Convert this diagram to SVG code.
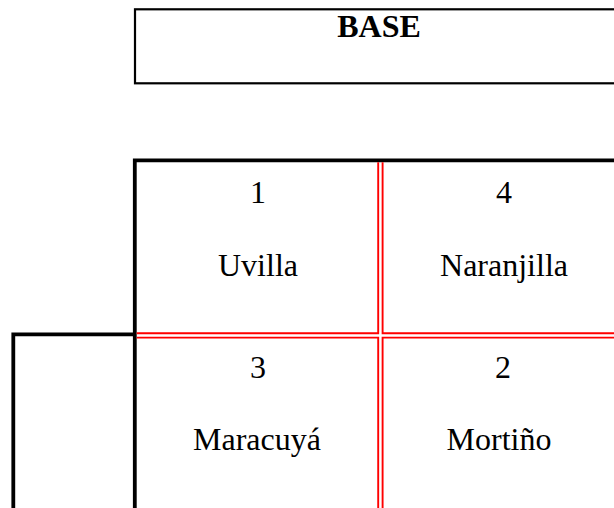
<svg xmlns="http://www.w3.org/2000/svg" width="614" height="508" viewBox="0 0 614 508">
  <style>
    .label { font-family: "Liberation Serif", "Times New Roman", serif; font-size: 32px; fill: #000; text-anchor: middle; }
    .bold { font-weight: bold; }
    .frame { fill: none; stroke: #000; }
    .dbl { fill: none; stroke: #ff0000; stroke-width: 1.9; }
  </style>
  <rect width="614" height="508" fill="#fff"/>

  <!-- header box -->
  <g id="base">
    <rect class="frame" x="135" y="9.3" width="500" height="74" stroke-width="2.2"/>
    <text class="label bold" x="379" y="37.3">BASE</text>
  </g>

  <!-- outer black frame of the grid and the side block -->
  <g id="frames">
    <path class="frame" stroke-width="3.8" d="M134.8 508 V160.3 H620"/>
    <path class="frame" stroke-width="3.8" d="M13.3 508 V334.3 H134.8"/>
  </g>

  <!-- red double rules between the cells -->
  <g id="rules">
    <path class="dbl" d="M136.7 333.3 H378.2 V162.2"/>
    <path class="dbl" d="M614 333.3 H382.6 V162.2"/>
    <path class="dbl" d="M136.7 337.6 H378.2 V508"/>
    <path class="dbl" d="M614 337.6 H382.6 V508"/>
  </g>

  <!-- cells -->
  <g id="cell-uvilla">
    <text class="label" x="258" y="203">1</text>
    <text class="label" x="258" y="276">Uvilla</text>
  </g>
  <g id="cell-naranjilla">
    <text class="label" x="504" y="203">4</text>
    <text class="label" x="504" y="276">Naranjilla</text>
  </g>
  <g id="cell-maracuya">
    <text class="label" x="258" y="378">3</text>
    <text class="label" x="257" y="450">Maracuyá</text>
  </g>
  <g id="cell-mortino">
    <text class="label" x="503" y="378">2</text>
    <text class="label" x="499" y="450">Mortiño</text>
  </g>
</svg>
